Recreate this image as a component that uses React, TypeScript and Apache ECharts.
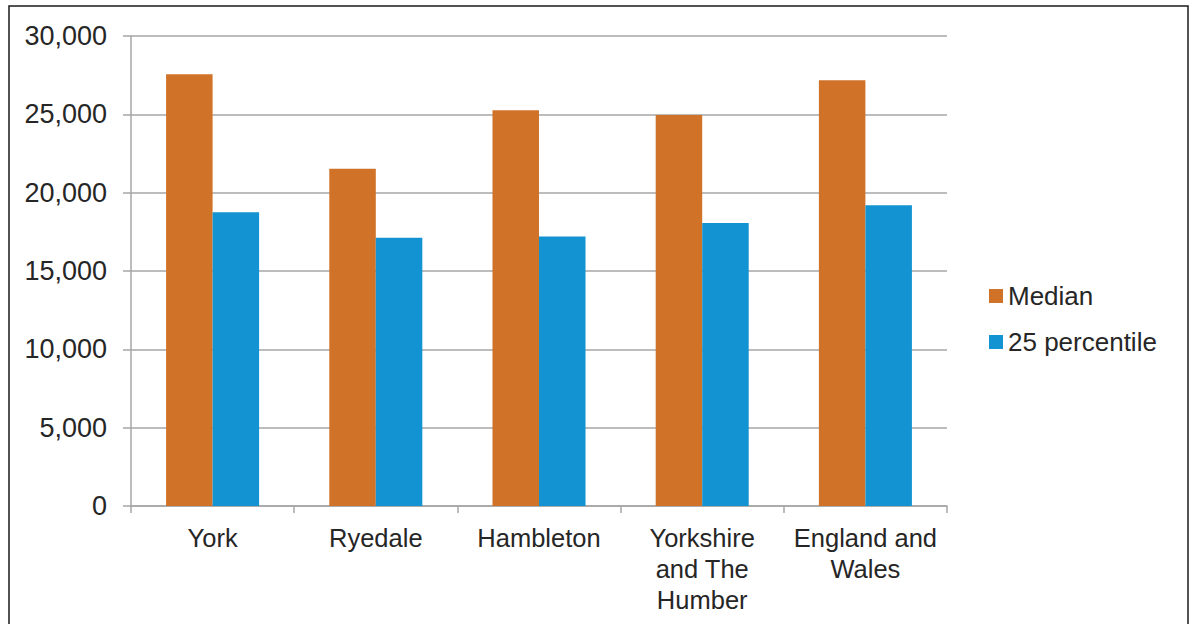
import React, { useEffect, useRef } from "react";
import * as echarts from "echarts";

const categories = ["York", "Ryedale", "Hambleton", "Yorkshire and The Humber", "England and Wales"];
const categoryLabels = ["York", "Ryedale", "Hambleton", "Yorkshire\nand The\nHumber", "England and\nWales"];
const medianValues = [27560, 21530, 25260, 24960, 27170];
const percentile25Values = [18750, 17130, 17210, 18060, 19190];
const seriesNames = ["Median", "25 percentile"];
const yTicks = { min: 0, max: 30000, interval: 5000 };

const FONT = "'Liberation Sans', Arial, sans-serif";
const TEXT = "#262626";
const GRID = "#A6A6A6";

export default function App() {
  const ref = useRef<HTMLDivElement>(null);
  useEffect(() => {
    const chart = echarts.init(ref.current!, null, { renderer: "svg" });
    chart.setOption({
      animation: false,
      backgroundColor: "#ffffff",
      textStyle: { fontFamily: FONT },
      grid: { left: 131, right: 246, top: 36, bottom: 118, containLabel: false },
      legend: {
        orient: "vertical",
        left: 989,
        top: 281,
        padding: 0,
        itemWidth: 14,
        itemHeight: 14,
        itemGap: 16,
        icon: "rect",
        data: seriesNames,
        textStyle: { fontFamily: FONT, fontSize: 26, color: TEXT, lineHeight: 30 },
      },
      xAxis: {
        type: "category",
        data: categories,
        axisLine: { show: true, lineStyle: { color: GRID, width: 1.5 } },
        axisTick: { show: true, length: 7, lineStyle: { color: GRID, width: 1.5 } },
        axisLabel: {
          color: TEXT,
          fontFamily: FONT,
          fontSize: 25.5,
          lineHeight: 31,
          margin: 16,
          interval: 0,
          formatter: (_v: string, i: number) => categoryLabels[i],
        },
      },
      yAxis: {
        type: "value",
        min: yTicks.min,
        max: yTicks.max,
        interval: yTicks.interval,
        axisLine: { show: true, lineStyle: { color: GRID, width: 1.5 } },
        axisTick: { show: true, length: 8, lineStyle: { color: GRID, width: 1.5 } },
        splitLine: { show: true, lineStyle: { color: GRID, width: 1.5 } },
        axisLabel: {
          color: TEXT,
          fontFamily: FONT,
          fontSize: 27,
          margin: 24,
          formatter: (v: number) => v.toLocaleString("en-US"),
        },
      },
      series: [
        {
          name: seriesNames[0],
          type: "bar",
          data: medianValues,
          itemStyle: { color: "#D07228" },
          barGap: "0%",
          barCategoryGap: "43%",
        },
        {
          name: seriesNames[1],
          type: "bar",
          data: percentile25Values,
          itemStyle: { color: "#1393D1" },
          barGap: "0%",
          barCategoryGap: "43%",
        },
      ],
      graphic: [
        {
          type: "rect",
          shape: { x: 9, y: 6, width: 1179, height: 640 },
          style: { fill: "none", stroke: "#1a1a1a", lineWidth: 1.5 },
          silent: true,
        },
      ],
    });
    return () => chart.dispose();
  }, []);
  return (
    <div
      ref={ref}
      style={{ position: "fixed", left: 0, top: 0, width: 1193, height: 624 }}
    />
  );
}
